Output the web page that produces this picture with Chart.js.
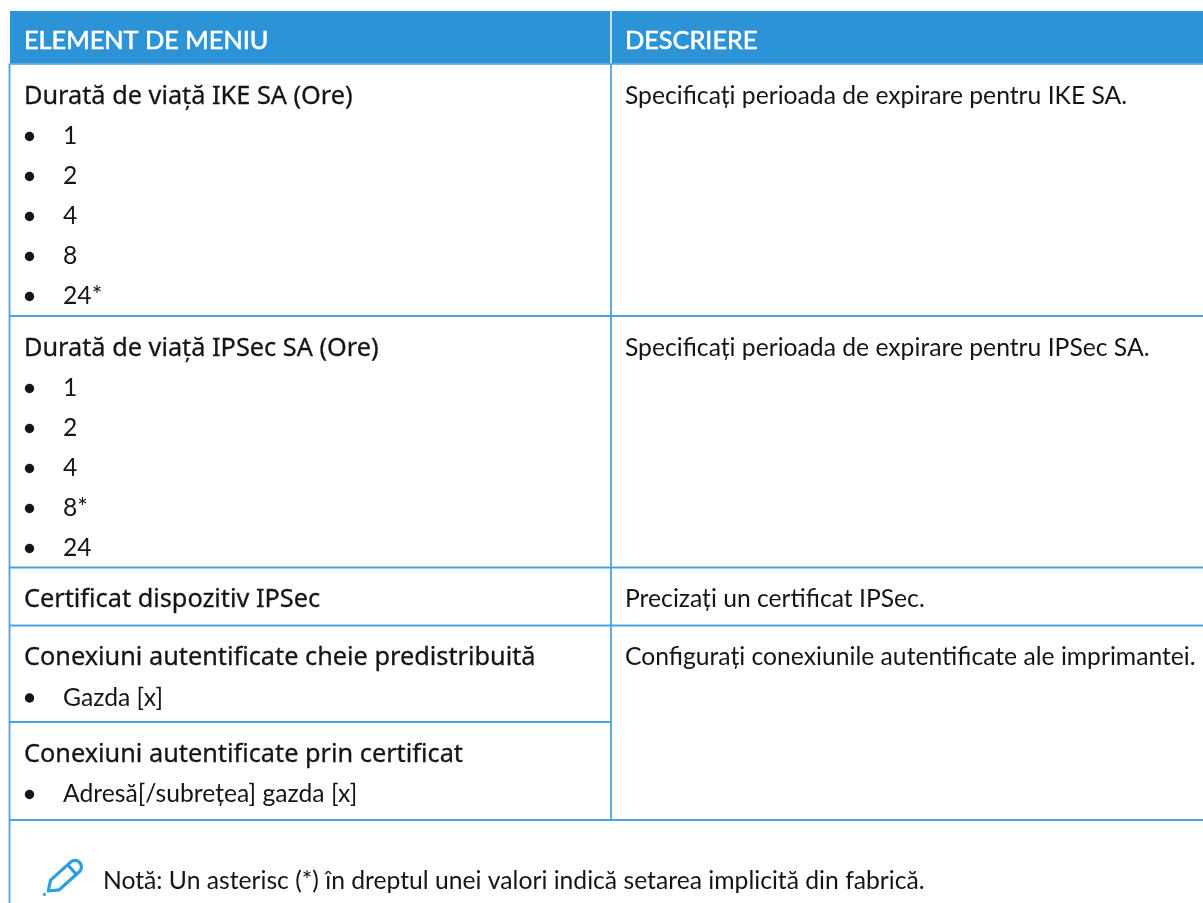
<!DOCTYPE html>
<html>
<head>
<meta charset="utf-8">
<style>
html, body { margin: 0; padding: 0; background: #fff; overflow: hidden; }
#tableChart { display: block; }
</style>
<script src="https://cdn.jsdelivr.net/npm/chart.js@4"></script>
</head>
<body>
<canvas id="tableChart" width="1203" height="903"></canvas>
<script>
// continutul tabelului
const headers = ['ELEMENT DE MENIU', 'DESCRIERE'];
const titles = ['Durată de viață IKE SA (Ore)', 'Durată de viață IPSec SA (Ore)', 'Certificat dispozitiv IPSec', 'Conexiuni autentificate cheie predistribuită', 'Conexiuni autentificate prin certificat'];
const items = [['1', '2', '4', '8', '24*'], ['1', '2', '4', '8*', '24'], [], ['Gazda [x]'], ['Adresă[/subrețea] gazda [x]']];
const descriptions = ['Specificați perioada de expirare pentru IKE SA.', 'Specificați perioada de expirare pentru IPSec SA.', 'Precizați un certificat IPSec.', 'Configurați conexiunile autentificate ale imprimantei.'];
const note = 'Notă: Un asterisc (*) în dreptul unei valori indică setarea implicită din fabrică.';

// asezare in pagina
const blue = '#2b93d6';
const line = '#4aa3e0';
const ink = '#151515';
const colX = [10, 611, 1203];
const headerY = [11, 63.5];
const rowTop = [64, 316, 567.5, 625.5, 722];
const tableEnd = 820;
const lineStep = 40;
const textFont = '24.7px Lato';
const titleFont = '25.3px "Noto Sans"';

// randurile cu buline
function bulletRows() {
    var pts = [];
    items.forEach(function(list, r) {
        list.forEach(function(t, i) {
            pts.push({ x: colX[0] + 19.5, y: rowTop[r] + 32.5 + lineStep * (i + 1), label: t });
        });
    });
    return pts;
}

const tablePlugin = {
    id: 'tablePlugin',
    beforeDatasetsDraw: function(chart) {
        const c = chart.ctx, sx = chart.scales.x, sy = chart.scales.y;
        const X = function(v) { return sx.getPixelForValue(v); };
        const Y = function(v) { return sy.getPixelForValue(v); };
        function seg(x1, y1, x2, y2, w, col) {
            c.beginPath(); c.strokeStyle = col; c.lineWidth = w;
            c.moveTo(X(x1), Y(y1)); c.lineTo(X(x2), Y(y2)); c.stroke();
        }
        c.save();
        // antet
        c.fillStyle = blue;
        c.fillRect(X(colX[0]), Y(headerY[0]), X(colX[2]) - X(colX[0]), Y(headerY[1]) - Y(headerY[0]));
        seg(colX[1], headerY[0], colX[1], headerY[1], 1.5, '#fff');
        // linii
        seg(colX[0] - 0.5, 63.5, colX[0] - 0.5, 903, 1.8, line);
        seg(colX[1], 64, colX[1], tableEnd, 1.8, line);
        seg(colX[0], 64, colX[2], 64, 1.5, line);
        rowTop.slice(1, 4).forEach(function(y) { seg(colX[0], y, colX[2], y, 1.8, line); });
        seg(colX[0], rowTop[4], colX[1], rowTop[4], 1.8, line);
        seg(colX[0], tableEnd, colX[2], tableEnd, 1.8, line);

        // text
        c.textBaseline = 'alphabetic';
        c.fillStyle = '#fff';
        c.strokeStyle = '#fff';
        c.lineWidth = 0.6;
        c.font = '25.3px Lato';
        headers.forEach(function(h, i) {
            c.fillText(h, X(colX[i] + 14), Y(49));
            c.strokeText(h, X(colX[i] + 14), Y(49));
        });
        c.fillStyle = ink;
        c.strokeStyle = ink;
        c.lineWidth = 0.3;
        c.font = titleFont;
        titles.forEach(function(t, r) {
            c.fillText(t, X(colX[0] + 14), Y(rowTop[r] + 39.5));
            c.strokeText(t, X(colX[0] + 14), Y(rowTop[r] + 39.5));
        });
        c.font = textFont;
        bulletRows().forEach(function(p) { c.fillText(p.label, X(colX[0] + 53), Y(p.y + 7.5)); });
        descriptions.forEach(function(t, r) { c.fillText(t, X(colX[1] + 14), Y(rowTop[r] + 39.5)); });
        c.fillText(note, X(103), Y(889));

        // creion
        c.translate(X(46), Y(893));
        c.rotate(-42 * Math.PI / 180);
        c.strokeStyle = '#2ba0dc';
        c.fillStyle = '#2ba0dc';
        c.lineWidth = 3.2;
        c.lineJoin = 'round';
        c.beginPath();
        c.moveTo(3, 0); c.lineTo(12, -6.5); c.lineTo(39, -6.5);
        c.arc(39, 0, 6.5, -Math.PI / 2, Math.PI / 2);
        c.lineTo(12, 6.5); c.closePath();
        c.stroke();
        c.beginPath(); c.moveTo(35, -6.5); c.lineTo(35, 6.5); c.stroke();
        c.beginPath(); c.arc(-2, 0, 1.6, 0, Math.PI * 2); c.fill();
        c.restore();
    }
};

new Chart(document.getElementById('tableChart'), {
    type: 'scatter',
    data: {
        datasets: [{
            data: bulletRows(),
            pointStyle: 'circle',
            pointRadius: 4.7,
            backgroundColor: ink,
            borderWidth: 0
        }]
    },
    options: {
        responsive: false,
        animation: false,
        events: [],
        layout: { padding: 0, autoPadding: false },
        plugins: { legend: { display: false }, tooltip: { enabled: false } },
        scales: {
            x: { type: 'linear', display: false, min: 0, max: 1203 },
            y: { type: 'linear', display: false, min: 0, max: 903, reverse: true }
        }
    },
    plugins: [tablePlugin]
});
</script>
</body>
</html>
